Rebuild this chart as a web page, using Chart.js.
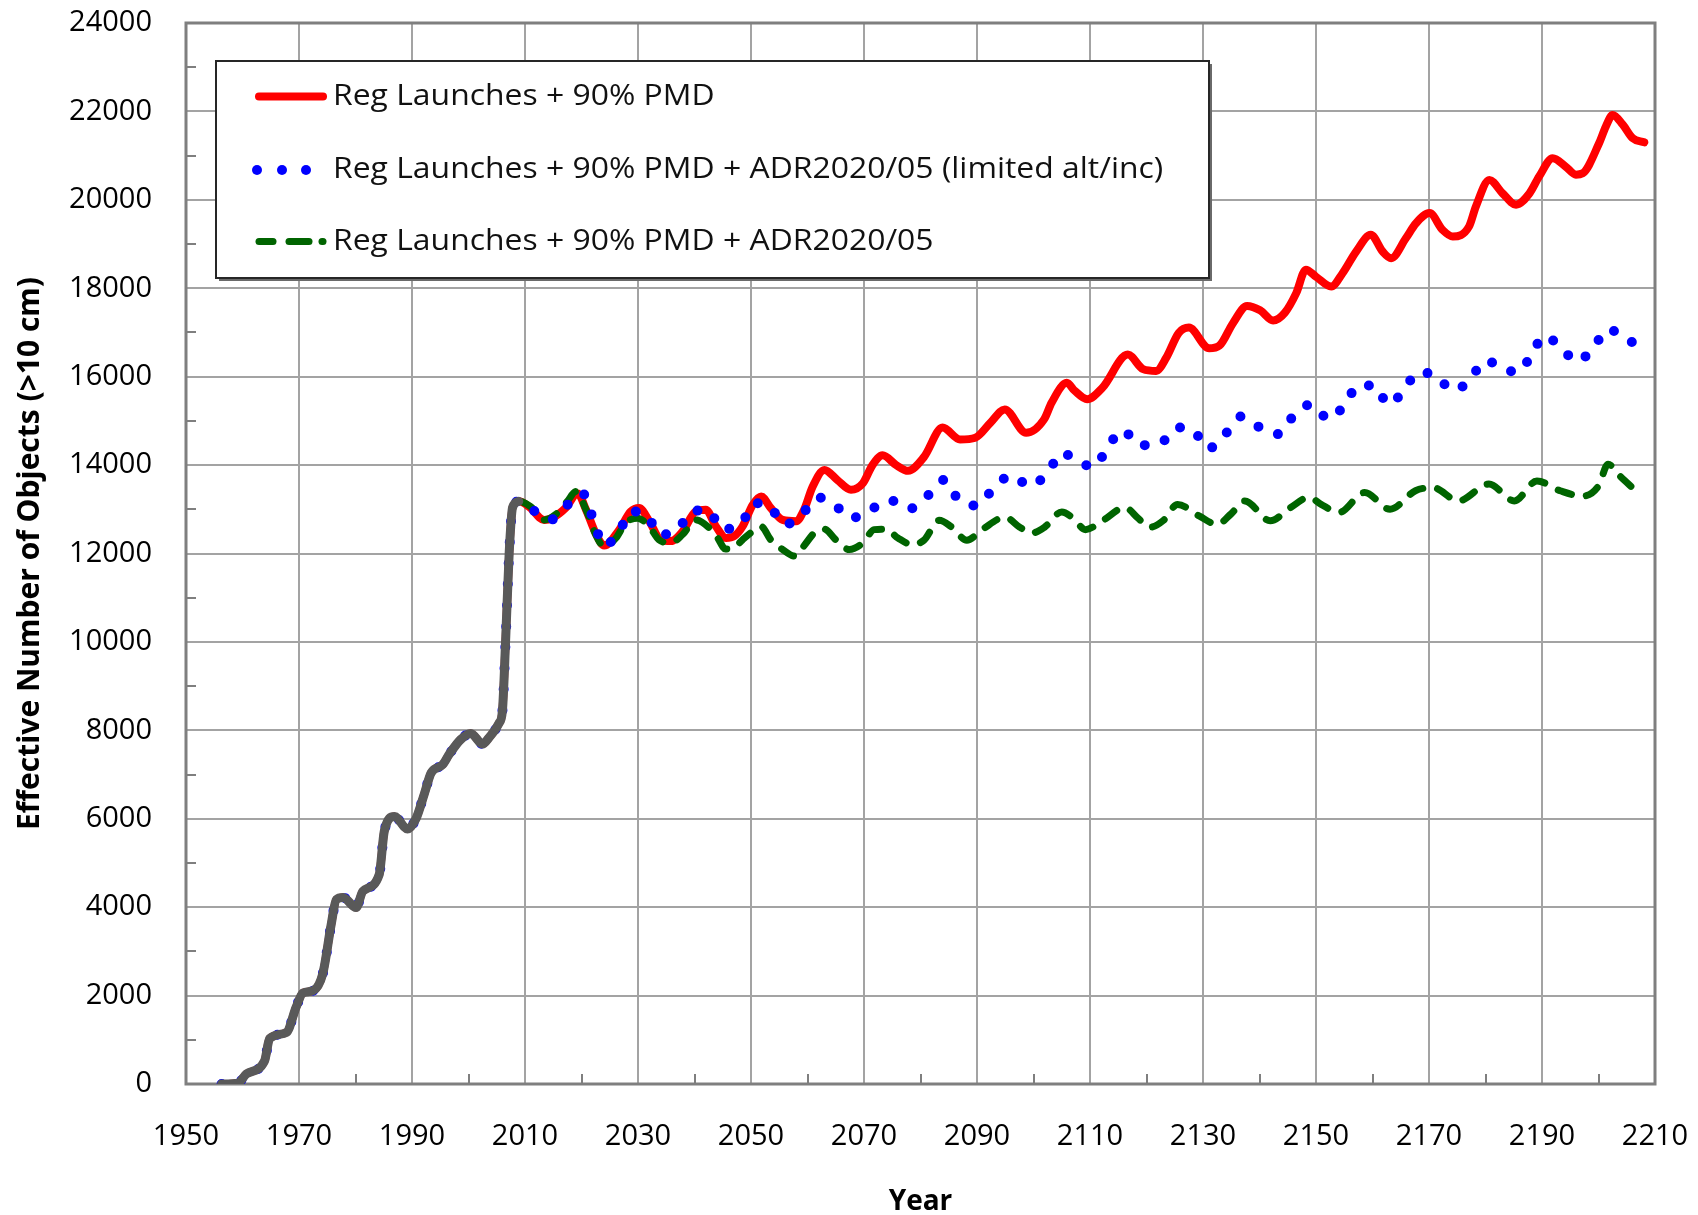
<!DOCTYPE html>
<html><head><meta charset="utf-8">
<script src="https://cdn.jsdelivr.net/npm/chart.js@4/dist/chart.umd.min.js"></script>
<style>html,body{margin:0;padding:0;background:#fff}canvas{display:block}</style>
</head><body>
<canvas id="c" width="1698" height="1215" style="width:1698px;height:1215px"></canvas>
<script>
// ---- Data ----
const seriesLabels = [
  "Reg Launches + 90% PMD",
  "Reg Launches + 90% PMD + ADR2020/05 (limited alt/inc)",
  "Reg Launches + 90% PMD + ADR2020/05"
];
const axisTitleX = "Year";
const axisTitleY = "Effective Number of Objects (>10 cm)";
const xMin = 1950, xMax = 2210, xStep = 20;
const yMin = 0, yMax = 24000, yStep = 2000;

const histYears  = [1956.3,1959.2,1960.7,1963.9,1964.8,1967.8,1969.5,1970.7,1972.5,1974.2,1975.7,1976.6,1977.8,1980.1,1981.3,1984.2,1985.1,1986.9,1989.2,1990.7,1992.2,1993.4,1995.4,1996.6,1998.6,2000.4,2002.5,2003.6,2005.4,2006.0,2006.6,2007.2,2007.8,2008.9];
const histValues = [0,20,230,520,1030,1170,1740,2060,2110,2490,3610,4170,4220,3990,4360,4740,5720,6050,5770,6000,6570,7040,7220,7460,7790,7930,7690,7830,8160,8440,10130,12010,13040,13180];

const redYears  = [2010.7,2013.4,2014.8,2017.2,2019.3,2020.8,2022.5,2024.0,2026.7,2028.7,2030.2,2032.0,2034.0,2035.8,2037.9,2040.2,2042.0,2043.8,2045.6,2047.0,2048.5,2050.3,2051.8,2053.5,2055.6,2058.0,2059.4,2060.9,2063.0,2065.3,2067.7,2069.8,2071.5,2073.3,2075.7,2077.8,2080.6,2083.9,2087.0,2089.7,2092.4,2094.9,2098.7,2101.9,2103.2,2105.9,2107.3,2109.5,2112.2,2116.7,2119.4,2121.7,2123.5,2125.7,2127.5,2131.1,2132.9,2135.3,2137.8,2140.1,2142.4,2144.5,2146.5,2148.2,2150.0,2152.7,2154.7,2157.1,2159.7,2161.8,2163.3,2165.9,2167.7,2170.1,2172.4,2174.2,2177.1,2178.3,2180.7,2183.0,2185.4,2187.8,2189.5,2191.9,2194.2,2196.0,2197.2,2200.1,2201.3,2202.5,2204.3,2206.0,2208.1];
const redValues = [13060,12760,12800,13030,13360,12990,12460,12180,12540,12950,13030,12730,12310,12280,12500,12950,12990,12610,12350,12390,12610,13100,13290,13030,12760,12730,12990,13510,13890,13660,13440,13590,14000,14220,14000,13870,14180,14850,14580,14620,14960,15260,14730,15040,15410,15860,15680,15490,15750,16500,16170,16130,16430,16990,17110,16640,16700,17210,17600,17500,17270,17450,17890,18420,18260,18040,18340,18830,19210,18830,18680,19130,19470,19700,19320,19170,19400,19850,20450,20150,19890,20150,20530,20940,20750,20570,20600,21280,21660,21920,21700,21400,21300];

const blueYears  = [2011.3,2014.5,2017.5,2020.2,2021.9,2024.0,2026.7,2028.7,2031.7,2033.7,2037.0,2039.7,2042.5,2044.8,2048.4,2050.4,2053.2,2055.9,2059.1,2061.8,2064.8,2067.7,2071.3,2074.5,2078.0,2081.2,2084.2,2086.6,2090.0,2092.9,2096.0,2099.4,2102.6,2105.0,2107.7,2110.7,2113.1,2115.8,2118.7,2122.4,2125.5,2128.4,2130.9,2134.0,2136.8,2140.1,2143.4,2146.0,2149.1,2152.3,2155.1,2157.5,2160.4,2162.8,2165.5,2168.0,2171.2,2174.1,2177.3,2179.7,2182.6,2185.4,2188.1,2190.3,2193.2,2196.1,2199.0,2201.6,2204.2,2207.6];
const blueValues = [12990,12760,13100,13360,12840,12180,12500,12950,12850,12430,12540,12970,12970,12550,12690,13140,13080,12650,12900,13270,13100,12800,13000,13210,13010,13300,13665,13240,13080,13470,13760,13530,13850,14280,14090,13960,14400,14790,14450,14490,14850,14770,14370,14710,15100,14850,14700,15110,15370,15040,15370,15800,15800,15370,15680,16090,16030,15700,15920,16350,16260,16090,16470,16920,16690,16350,16630,17070,16930,16620];

const greenYears  = [2011.0,2013.4,2015.4,2017.5,2019.0,2020.8,2022.5,2024.0,2026.1,2027.8,2029.9,2032.0,2033.7,2035.8,2037.9,2040.2,2042.6,2044.1,2045.5,2047.0,2048.5,2050.3,2051.8,2053.5,2055.6,2057.7,2059.1,2061.5,2063.0,2065.0,2067.4,2069.8,2071.8,2073.9,2076.0,2078.6,2080.6,2083.3,2085.5,2088.2,2091.0,2095.0,2097.5,2099.6,2102.0,2105.0,2107.0,2109.2,2112.2,2116.2,2118.5,2120.5,2123.0,2125.5,2129.3,2132.5,2135.0,2137.4,2141.9,2145.5,2148.8,2150.9,2154.1,2158.6,2163.1,2167.6,2170.7,2175.2,2180.6,2185.1,2189.1,2193.2,2197.2,2200.0,2201.7,2203.8,2206.5];
const greenValues = [13060,12760,12880,13180,13400,12990,12430,12160,12350,12690,12800,12610,12310,12240,12430,12760,12580,12350,12100,12130,12310,12500,12610,12310,12090,11940,12130,12500,12550,12310,12090,12240,12540,12550,12350,12200,12300,12750,12600,12300,12550,12820,12600,12460,12600,12940,12800,12540,12740,13040,12800,12590,12750,13110,12850,12660,12900,13190,12740,13040,13270,13110,12930,13380,13000,13420,13490,13190,13570,13190,13640,13420,13300,13530,14020,13750,13430];

// ---- Build points ----
function pts(xs, ys) { return xs.map((x, i) => ({x: x, y: ys[i]})); }
const histPts = pts(histYears, histValues);

const FONT = "'Open Sans', 'DejaVu Sans', sans-serif";
Chart.defaults.font.family = FONT;
Chart.defaults.color = '#000';

const C = {
  red: '#ff0000', blue: '#0000ff', green: '#006400', gray: '#595959',
  grid: '#a3a3a3', frame: '#7f7f7f'
};

const framePlugin = {
  id: 'frame',
  beforeDatasetsDraw(chart) {
    const {ctx, chartArea: a, scales: {x, y}} = chart;
    ctx.save();
    ctx.strokeStyle = C.frame;
    ctx.lineWidth = 2;
    for (let v = yMin + yStep / 2; v < yMax; v += yStep) {
      const py = Math.round(y.getPixelForValue(v));
      ctx.beginPath(); ctx.moveTo(a.left, py); ctx.lineTo(a.left + 10, py); ctx.stroke();
    }
    for (let v = xMin + xStep / 2; v < xMax; v += xStep) {
      const px = Math.round(x.getPixelForValue(v));
      ctx.beginPath(); ctx.moveTo(px, a.bottom); ctx.lineTo(px, a.bottom - 10); ctx.stroke();
    }
    ctx.lineWidth = 3;
    ctx.strokeRect(a.left, a.top, a.right - a.left, a.bottom - a.top);
    ctx.restore();
  }
};

const legendPlugin = {
  id: 'boxLegend',
  afterDraw(chart) {
    const {ctx} = chart;
    const L = 216, T = 61, R = 1209, B = 278;
    ctx.save();
    ctx.fillStyle = '#6a6a6a';
    ctx.fillRect(L + 3, T + 3, R - L, B - T);
    ctx.fillStyle = '#fff';
    ctx.fillRect(L, T, R - L, B - T);
    ctx.strokeStyle = '#262626';
    ctx.lineWidth = 2;
    ctx.strokeRect(L, T, R - L, B - T);
    const rows = [96.5, 170, 241.5];
    const ds = chart.data.datasets;
    ctx.lineCap = 'round';
    for (let i = 0; i < 3; i++) {
      const d = ds[i], yy = rows[i];
      ctx.strokeStyle = d.borderColor;
      ctx.fillStyle = d.borderColor;
      if (i === 0) {
        ctx.lineWidth = 8;
        ctx.beginPath(); ctx.moveTo(259, yy); ctx.lineTo(323, yy); ctx.stroke();
      } else if (i === 1) {
        [257, 282, 306].forEach(cx => { ctx.beginPath(); ctx.arc(cx, yy, 5, 0, Math.PI * 2); ctx.fill(); });
      } else {
        ctx.lineWidth = 7;
        ctx.beginPath(); ctx.moveTo(259, yy); ctx.lineTo(273, yy); ctx.stroke();
        ctx.beginPath(); ctx.moveTo(289, yy); ctx.lineTo(309, yy); ctx.stroke();
        ctx.beginPath(); ctx.moveTo(322, yy); ctx.lineTo(323, yy); ctx.stroke();
      }
      ctx.save();
      ctx.fillStyle = '#111';
      ctx.font = "29px " + FONT;
      ctx.textBaseline = 'middle';
      ctx.textAlign = 'left';
      ctx.translate(333, yy);
      ctx.scale(1.1, 1);
      ctx.fillText(d.label, 0, 0);
      ctx.restore();
    }
    ctx.restore();
  }
};

const common = { pointRadius: 0, pointHoverRadius: 0, fill: false, cubicInterpolationMode: 'monotone', borderJoinStyle: 'round', borderCapStyle: 'round' };

new Chart(document.getElementById('c'), {
  type: 'line',
  data: {
    datasets: [
      Object.assign({}, common, { label: seriesLabels[0], data: histPts.concat(pts(redYears, redValues)), borderColor: C.red, borderWidth: 8, order: 3 }),
      Object.assign({}, common, { label: seriesLabels[1], data: histPts.concat(pts(blueYears, blueValues)), borderColor: C.blue, borderWidth: 10, borderDash: [0, 21], order: 1 }),
      Object.assign({}, common, { label: seriesLabels[2], data: histPts.concat(pts(greenYears, greenValues)), borderColor: C.green, borderWidth: 7, borderDash: [14, 15], order: 2 }),
      Object.assign({}, common, { label: 'Historical', data: histPts, borderColor: C.gray, borderWidth: 9, order: 0 })
    ]
  },
  options: {
    responsive: false,
    animation: false,
    devicePixelRatio: 1,
    layout: { padding: { left: 0, right: 43, top: 23, bottom: 0 } },
    plugins: { legend: { display: false }, tooltip: { enabled: false }, title: { display: false } },
    scales: {
      x: {
        type: 'linear', min: xMin, max: xMax,
        afterFit(s) { s.height = 131; s.paddingLeft = 0; s.paddingRight = 0; },
        ticks: { stepSize: xStep, padding: 35, font: { size: 29 }, color: '#000', maxRotation: 0, callback: v => String(v) },
        grid: { color: C.grid, lineWidth: 2, drawTicks: false },
        border: { display: false },
        title: { display: true, text: axisTitleX, font: { size: 28, weight: 'bold' }, color: '#000', padding: { top: 0, bottom: -4 } }
      },
      y: {
        type: 'linear', min: yMin, max: yMax,
        afterFit(s) { s.width = 186; s.paddingTop = 0; s.paddingBottom = 0; },
        ticks: { stepSize: yStep, padding: 34, font: { size: 29 }, color: '#000', callback: v => String(v) },
        grid: { color: C.grid, lineWidth: 2, drawTicks: false },
        border: { display: false },
        title: { display: true, text: axisTitleY, font: { size: 30, weight: 'bold' }, color: '#000', padding: { top: 12, bottom: 0 } }
      }
    }
  },
  plugins: [framePlugin, legendPlugin]
});
</script>
</body></html>
